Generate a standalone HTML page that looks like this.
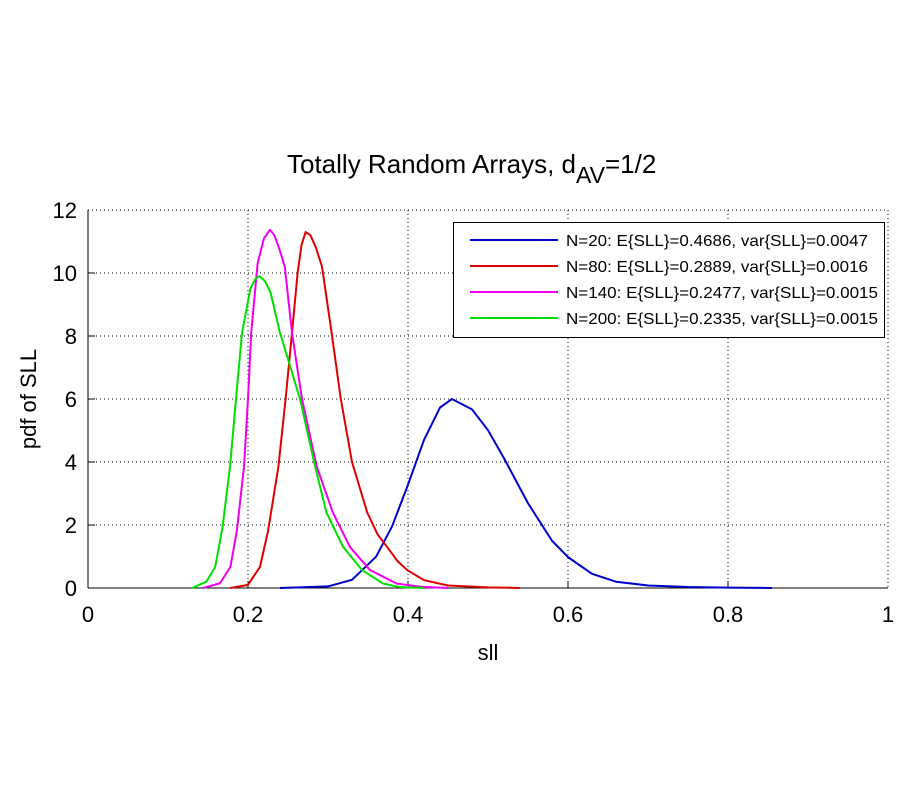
<!DOCTYPE html>
<html><head><style>
html,body{margin:0;padding:0;background:#fff;}
svg{display:block;font-family:"Liberation Sans",sans-serif;}
</style></head><body>
<svg width="900" height="800" viewBox="0 0 900 800" xmlns="http://www.w3.org/2000/svg">
<rect width="900" height="800" fill="#fff"/>
<g stroke="#000" stroke-width="1" stroke-dasharray="1,3">
<line x1="248" y1="210" x2="248" y2="588"/><line x1="408" y1="210" x2="408" y2="588"/>
<line x1="568" y1="210" x2="568" y2="588"/><line x1="728" y1="210" x2="728" y2="588"/>
<line x1="888" y1="210" x2="888" y2="588"/>
<line x1="88" y1="210" x2="888" y2="210"/><line x1="88" y1="273" x2="888" y2="273"/>
<line x1="88" y1="336" x2="888" y2="336"/><line x1="88" y1="399" x2="888" y2="399"/>
<line x1="88" y1="462" x2="888" y2="462"/><line x1="88" y1="525" x2="888" y2="525"/>
</g>
<g stroke="#000" stroke-width="1">
<line x1="88" y1="210" x2="88" y2="588"/><line x1="88" y1="588" x2="888" y2="588"/>
<line x1="248" y1="588" x2="248" y2="581"/><line x1="408" y1="588" x2="408" y2="581"/>
<line x1="568" y1="588" x2="568" y2="581"/><line x1="728" y1="588" x2="728" y2="581"/>
<line x1="88" y1="525" x2="95" y2="525"/><line x1="88" y1="462" x2="95" y2="462"/>
<line x1="88" y1="399" x2="95" y2="399"/><line x1="88" y1="336" x2="95" y2="336"/>
<line x1="88" y1="273" x2="95" y2="273"/>
</g>
<g font-size="22" text-anchor="end">
<text x="77" y="596">0</text><text x="77" y="533">2</text><text x="77" y="470">4</text>
<text x="77" y="407">6</text><text x="77" y="344">8</text><text x="77" y="281">10</text><text x="77" y="218">12</text>
</g>
<g font-size="22" text-anchor="middle">
<text x="88" y="622">0</text><text x="248" y="622">0.2</text><text x="408" y="622">0.4</text>
<text x="568" y="622">0.6</text><text x="728" y="622">0.8</text><text x="888" y="622">1</text>
<text x="488" y="660">sll</text>
<text transform="translate(36,399) rotate(-90)">pdf of SLL</text>
</g>
<text x="287" y="173" font-size="26">Totally Random Arrays, d<tspan font-size="23" dy="10">AV</tspan><tspan dy="-10">=1/2</tspan></text>
<g transform="translate(88,588) scale(800,-31.5)" fill="none" stroke-width="2" stroke-linejoin="round">
<polyline vector-effect="non-scaling-stroke" stroke="#0000cc" points="0.24,0 0.3,0.05 0.33,0.26 0.36,0.99 0.38,1.95 0.4,3.28 0.42,4.7 0.44,5.73 0.455,6 0.48,5.67 0.5,5.01 0.52,4.12 0.55,2.69 0.58,1.5 0.6,0.98 0.63,0.45 0.66,0.2 0.7,0.08 0.75,0.03 0.8,0.01 0.855,0"/>
<polyline vector-effect="non-scaling-stroke" stroke="#e00000" points="0.178,0 0.2,0.1 0.215,0.67 0.225,1.8 0.238,3.85 0.247,6 0.255,8.1 0.262,10 0.267,10.9 0.272,11.3 0.278,11.2 0.285,10.8 0.2925,10.2 0.304,8.2 0.316,6 0.33,4 0.349,2.4 0.362,1.7 0.374,1.3 0.387,0.85 0.399,0.57 0.42,0.25 0.45,0.08 0.5,0.02 0.54,0"/>
<polyline vector-effect="non-scaling-stroke" stroke="#ee00ee" points="0.144,0 0.165,0.15 0.178,0.67 0.186,1.8 0.195,3.85 0.2,6 0.204,8.1 0.212,10.3 0.22,11.1 0.2275,11.37 0.233,11.2 0.24,10.7 0.246,10.2 0.255,8.1 0.2675,6 0.286,3.85 0.306,2.4 0.3275,1.3 0.3525,0.57 0.386,0.14 0.42,0.03 0.45,0"/>
<polyline vector-effect="non-scaling-stroke" stroke="#00e000" points="0.13,0 0.148,0.2 0.159,0.67 0.168,1.9 0.1775,3.85 0.185,6 0.1925,8.1 0.203,9.5 0.209,9.8 0.214,9.9 0.221,9.75 0.228,9.4 0.24,8.1 0.252,7.1 0.265,6 0.284,3.85 0.298,2.4 0.319,1.3 0.3425,0.57 0.369,0.14 0.39,0.03 0.42,0"/>
</g>
<rect x="453.5" y="222.5" width="431" height="115" fill="#fff" stroke="#000"/>
<g stroke-width="2">
<line x1="470" y1="240" x2="558" y2="240" stroke="#0000cc"/>
<line x1="470" y1="266" x2="558" y2="266" stroke="#e00000"/>
<line x1="470" y1="292" x2="558" y2="292" stroke="#ee00ee"/>
<line x1="470" y1="318" x2="558" y2="318" stroke="#00e000"/>
</g>
<g font-size="16">
<text x="566" y="246" textLength="302" lengthAdjust="spacingAndGlyphs">N=20: E{SLL}=0.4686, var{SLL}=0.0047</text>
<text x="566" y="272" textLength="302" lengthAdjust="spacingAndGlyphs">N=80: E{SLL}=0.2889, var{SLL}=0.0016</text>
<text x="566" y="298" textLength="312" lengthAdjust="spacingAndGlyphs">N=140: E{SLL}=0.2477, var{SLL}=0.0015</text>
<text x="566" y="324" textLength="312" lengthAdjust="spacingAndGlyphs">N=200: E{SLL}=0.2335, var{SLL}=0.0015</text>
</g>
</svg>
</body></html>
